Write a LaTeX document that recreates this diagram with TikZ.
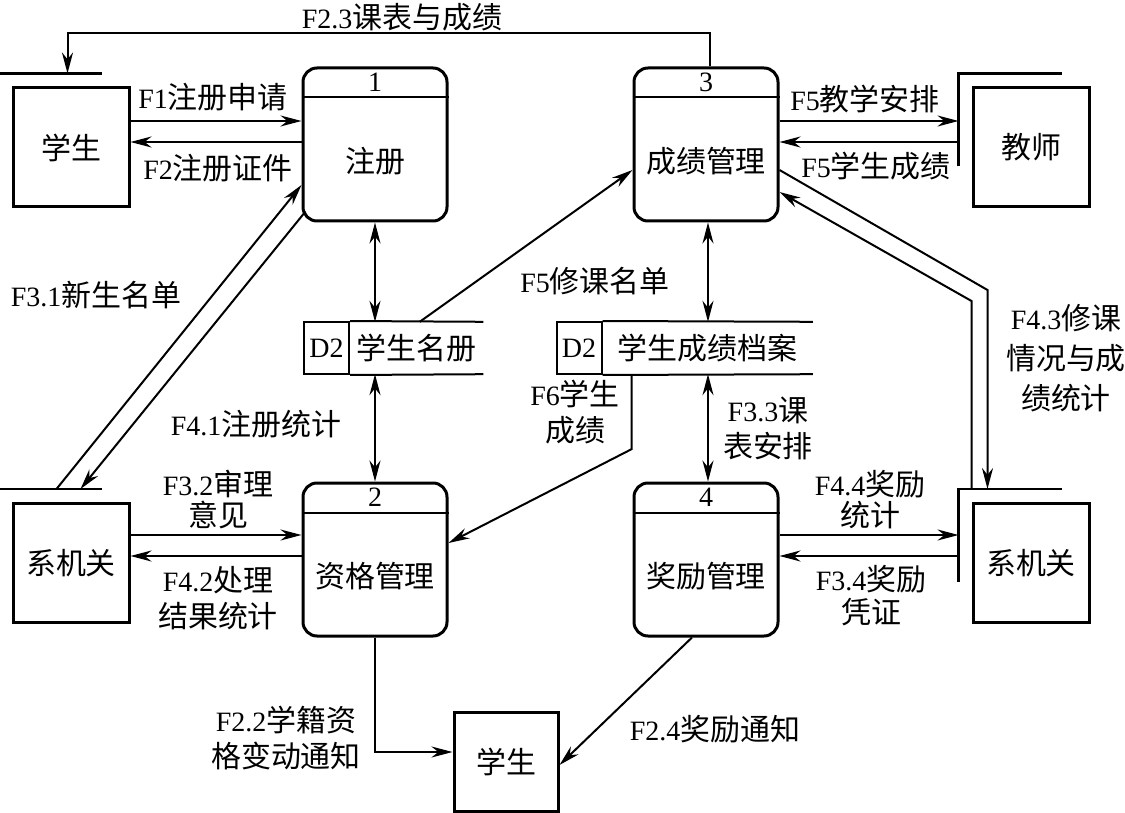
\documentclass[tikz,border=0pt]{standalone}
\usepackage{fontspec}
\setmainfont{Liberation Serif}
\newfontfamily\cjk[Scale=1.07]{Noto Sans CJK SC}
\usepackage{tikz}
\usetikzlibrary{positioning,calc,arrows.meta}

\newcommand{\zh}[1]{{\cjk #1}}

\tikzset{
	entity/.style={draw, line width=3pt, minimum width=116pt, minimum height=119pt, inner sep=0pt},
	process/.style={draw, line width=3pt, rounded corners=14pt, minimum width=144pt, minimum height=153pt, inner sep=0pt},
	storeid/.style={draw, line width=2pt, minimum width=45pt, minimum height=52pt, inner sep=0pt},
	storebody/.style={minimum height=52pt, inner sep=0pt},
	flow/.style={line width=2pt, -{Stealth[length=21pt,width=11pt]}},
	dflow/.style={line width=2pt, {Stealth[length=21pt,width=11pt]}-{Stealth[length=21pt,width=11pt]}},
	shadowline/.style={line width=2.4pt},
	lbl/.style={align=center, inner sep=0pt},
}

\begin{document}
\begin{tikzpicture}[x=1pt, y=-1pt, font=\fontsize{28}{36}\selectfont]
	
	\useasboundingbox (0,0) rectangle (1125,813);
	
	% external entities
	\node[entity] (e1) at (71,147.5) {\zh{学生}};
	\node[entity] (e2) at (1031,147.5) {\zh{教师}};
	\node[entity] (e3) at (71,563) {\zh{系机关}};
	\node[entity] (e4) at (1031,563) {\zh{系机关}};
	\node[entity, minimum width=104pt, minimum height=99pt] (e5) at (506,761.5) {\zh{学生}};
	
	\coordinate (e1s) at ($(e1.north west)+(-13,-13)$);
	\coordinate (e2s) at ($(e2.north west)+(-13,-13)$);
	\coordinate (e3s) at ($(e3.north west)+(-13,-13)$);
	\coordinate (e4s) at ($(e4.north west)+(-13,-13)$);
	
	\draw[shadowline] ($(e1s)+(0,93)$) |- ($(e1s)+(103,0)$);
	\draw[shadowline] ($(e2s)+(0,93)$) |- ($(e2s)+(103,0)$);
	\draw[shadowline] ($(e3s)+(0,93)$) |- ($(e3s)+(103,0)$);
	\draw[shadowline] ($(e4s)+(0,93)$) |- ($(e4s)+(103,0)$);
	
	% processes
	\node[process] (p1) at (375,144.5) {};
	\node[process] (p2) at (375,559.5) {};
	\node[process] (p3) at (706,144.5) {};
	\node[process] (p4) at (706,559.5) {};
	
	\draw[line width=2pt] ($(p1.north west)+(0,31)$) -- ($(p1.north east)+(0,31)$);
	\draw[line width=2pt] ($(p2.north west)+(0,31)$) -- ($(p2.north east)+(0,31)$);
	\draw[line width=2pt] ($(p3.north west)+(0,31)$) -- ($(p3.north east)+(0,31)$);
	\draw[line width=2pt] ($(p4.north west)+(0,31)$) -- ($(p4.north east)+(0,31)$);
	
	\node (n1) at ($(p1.north)+(0,16)$) {1};
	\node (n2) at ($(p2.north)+(0,16)$) {2};
	\node (n3) at ($(p3.north)+(0,16)$) {3};
	\node (n4) at ($(p4.north)+(0,16)$) {4};
	
	\node (t1) at ($(p1.south)+(0,-61)$) {\zh{注册}};
	\node (t2) at ($(p2.south)+(0,-61)$) {\zh{资格管理}};
	\node (t3) at ($(p3.south)+(0,-61)$) {\zh{成绩管理}};
	\node (t4) at ($(p4.south)+(0,-61)$) {\zh{奖励管理}};
	
	% data stores
	\node[storeid] (d1) at (326.5,348) {D2};
	\node[storebody, minimum width=133pt, right=0pt of d1] (s1) {\zh{学生名册}};
	\draw[line width=2pt] (d1.north east) -- (s1.north east) (d1.south east) -- (s1.south east);
	
	\node[storeid] (d2) at (579,348) {D2};
	\node[storebody, minimum width=210pt, right=0pt of d2] (s2) {\zh{学生成绩档案}};
	\draw[line width=2pt] (d2.north east) -- (s2.north east) (d2.south east) -- (s2.south east);
	
	% flows
	\draw[flow] (e1.east |- 0,121) -- (p1.west |- 0,121);
	\draw[flow] (p1.west |- 0,142) -- (e1.east |- 0,142);
	\draw[flow] ($(p3.north)+(4,0)$) -- ++(0,-33) -| ($(e1s)+(69,0)$);
	
	\draw[flow] (p3.east |- 0,121) -- (e2s |- 0,121);
	\draw[flow] (e2s |- 0,142) -- (p3.east |- 0,142);
	
	\draw[dflow] (p1.south) -- (p1.south |- s1.north);
	\draw[dflow] (p2.north |- s1.south) -- (p2.north);
	\draw[flow] ($(s1.north)+(3,0)$) -- (p3.west |- 0,170);
	
	\draw[dflow] ($(p3.south)+(2,0)$) -- ($(p3.south |- s2.north)+(2,0)$);
	\draw[dflow] ($(p4.north |- s2.south)+(2,0)$) -- ($(p4.north)+(2,0)$);
	\draw[flow] ($(s2.south west)+(29,0)$) -- ++(0,75) -- (p2.east |- 0,543);
	
	\draw[flow] ($(e3s)+(58,0)$) -- (p1.west |- 0,185);
	\draw[flow] ($(p1.south west)+(4,-11)$) -- ($(e3s)+(82,0)$);
	
	\draw[flow] (p3.east |- 0,170) -- ($(e4s)+(29,-199)$) -- ($(e4s)+(29,0)$);
	\draw[flow] ($(e4s)+(13,0)$) -- ($(e4s)+(13,-188)$) -- (p3.east |- 0,192);
	
	\draw[flow] (e3.east |- 0,535) -- (p2.west |- 0,535);
	\draw[flow] (p2.west |- 0,556) -- (e3.east |- 0,556);
	\draw[flow] (p4.east |- 0,535) -- (e4s |- 0,535);
	\draw[flow] (e4s |- 0,556) -- (p4.east |- 0,556);
	
	\draw[flow] (p2.south) |- (e5.west |- 0,752);
	\draw[flow] ($(p4.south)+(-14,0)$) -- (e5.east |- 0,765);
	
	% labels
	\node[lbl] (l1) at (213,97) {F1\zh{注册申请}};
	\node[lbl] (l2) at (218,168) {F2\zh{注册证件}};
	\node[lbl] (l3) at (402,17) {F2.3\zh{课表与成绩}};
	\node[lbl] (l4) at (865,99) {F5\zh{教学安排}};
	\node[lbl] (l5) at (876,166) {F5\zh{学生成绩}};
	\node[lbl] (l6) at (96,295) {F3.1\zh{新生名单}};
	\node[lbl] (l7) at (256,424) {F4.1\zh{注册统计}};
	\node[lbl] (l8) at (595,281) {F5\zh{修课名单}};
	\node[lbl] (l9) at (575,412) {F6\zh{学生}\\\zh{成绩}};
	\node[lbl] (l10) at (768,428) {F3.3\zh{课}\\\zh{表安排}};
	\node[lbl] (l11) at (1066,358) {F4.3\zh{修课}\\[4pt]\zh{情况与成}\\[4pt]\zh{绩统计}};
	\node[lbl] (l12) at (218,500) {F3.2\zh{审理}\\[-5pt]\zh{意见}};
	\node[lbl] (l13) at (218,598) {F4.2\zh{处理}\\\zh{结果统计}};
	\node[lbl] (l14) at (870,500) {F4.4\zh{奖励}\\[-5pt]\zh{统计}};
	\node[lbl] (l15) at (871,596) {F3.4\zh{奖励}\\[-3pt]\zh{凭证}};
	\node[lbl] (l16) at (286,738) {F2.2\zh{学籍资}\\\zh{格变动通知}};
	\node[lbl] (l17) at (715,729) {F2.4\zh{奖励通知}};
	
\end{tikzpicture}
\end{document}
